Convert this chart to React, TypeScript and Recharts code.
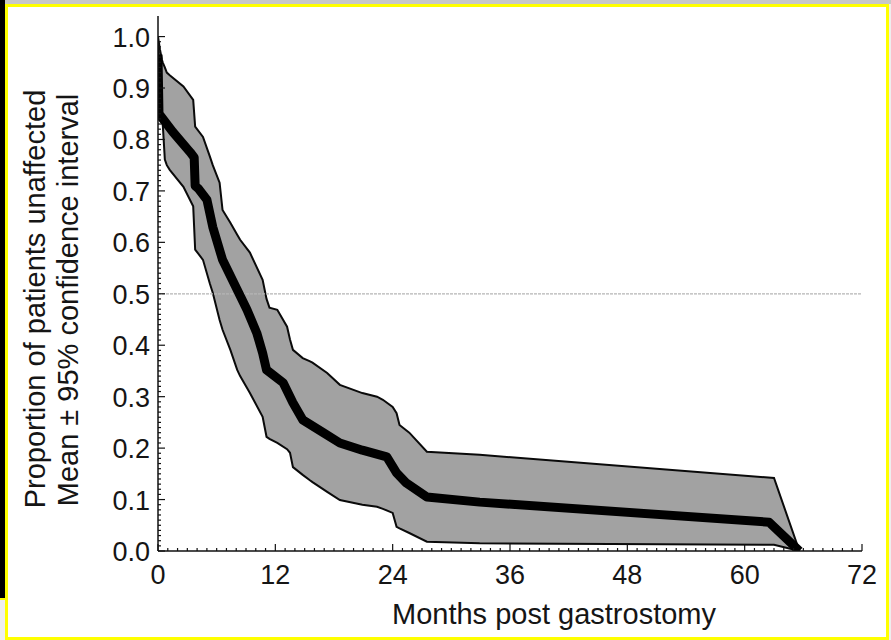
import React from 'react';
import { ComposedChart, Area, Line, XAxis, YAxis, ReferenceLine } from 'recharts';

// 95% confidence band (months post gastrostomy, lower / upper bound)
const bandMonths = [0, 0.2, 0.4, 0.5, 0.7, 0.9, 1.2, 2.6, 3.6, 3.8, 4.6, 5.3, 5.6, 6.3, 6.6, 7.4, 8.1, 8.4, 9.4, 10.7, 11.1, 11.4, 12.2, 13.2, 13.5, 13.8, 14.8, 15.5, 15.8, 17.3, 18.6, 20.9, 22.4, 23.0, 24.0, 24.4, 24.7, 25.7, 27.5, 32.9, 63.0, 65.6];
const bandUpper = [1.0, 0.975, 0.955, 0.949, 0.94, 0.93, 0.925, 0.903, 0.877, 0.825, 0.805, 0.767, 0.75, 0.716, 0.663, 0.638, 0.615, 0.605, 0.58, 0.527, 0.49, 0.473, 0.469, 0.436, 0.411, 0.391, 0.375, 0.369, 0.366, 0.346, 0.323, 0.307, 0.3, 0.294, 0.28, 0.268, 0.245, 0.23, 0.193, 0.187, 0.142, 0.0];
const bandLower = [0.985, 0.93, 0.845, 0.825, 0.761, 0.75, 0.741, 0.708, 0.67, 0.586, 0.566, 0.52, 0.502, 0.449, 0.43, 0.391, 0.352, 0.34, 0.307, 0.261, 0.222, 0.218, 0.21, 0.198, 0.191, 0.163, 0.148, 0.138, 0.134, 0.115, 0.099, 0.09, 0.086, 0.082, 0.074, 0.047, 0.044, 0.035, 0.018, 0.015, 0.012, 0.0];

// Mean proportion of patients unaffected
const meanMonths = [0, 0.1, 1.5, 3.3, 3.7, 3.8, 4.1, 5.0, 5.6, 6.6, 8.1, 9.1, 10.1, 10.7, 11.1, 12.8, 13.8, 14.8, 16.9, 18.6, 20.9, 23.4, 24.4, 25.4, 27.5, 32.9, 62.5, 65.6];
const meanValues = [0.965, 0.85, 0.815, 0.775, 0.765, 0.71, 0.705, 0.683, 0.63, 0.566, 0.508, 0.469, 0.424, 0.385, 0.352, 0.327, 0.288, 0.255, 0.23, 0.21, 0.196, 0.183, 0.152, 0.132, 0.105, 0.095, 0.056, 0.0];

const xMajorTicks = [0, 12, 24, 36, 48, 60, 72];
const yTickLabels = ['0.0', '0.1', '0.2', '0.3', '0.4', '0.5', '0.6', '0.7', '0.8', '0.9', '1.0'];
const xTitle = 'Months post gastrostomy';
const yTitle1 = 'Proportion of patients unaffected';
const yTitle2 = 'Mean \u00b1 95% confidence interval';

const bandData = bandMonths.map((m, i) => ({ month: m, ci: [bandLower[i], bandUpper[i]] }));
const meanData = meanMonths.map((m, i) => ({ month: m, mean: meanValues[i] }));

const xAllTicks = Array.from({ length: 73 }, (_, i) => i);
const yAllTicks = Array.from({ length: 101 }, (_, i) => i / 100);

const FONT = '"Liberation Sans", Arial, Helvetica, sans-serif';
const TEXT = '#151515';

const XTick = (props: any) => {
  const { x, y, payload } = props;
  const m = payload.value;
  const major = xMajorTicks.includes(m);
  return (
    <g>
      <line x1={x} x2={x} y1={y} y2={y - (major ? 7 : 3)} stroke="#111" strokeWidth={1.2} />
      {major && (
        <text x={x} y={y + 33} textAnchor="middle" fontSize={27} fontFamily={FONT} fill={TEXT}>
          {m}
        </text>
      )}
    </g>
  );
};

const YTick = (props: any) => {
  const { x, y, payload } = props;
  const idx = Math.round(payload.value * 100);
  const major = idx % 10 === 0;
  return (
    <g>
      <line x1={x} x2={x + (major ? 7 : 3)} y1={y} y2={y} stroke="#111" strokeWidth={1.2} />
      {major && (
        <text x={x - 8} y={y + 10} textAnchor="end" fontSize={27} fontFamily={FONT} fill={TEXT}>
          {yTickLabels[idx / 10]}
        </text>
      )}
    </g>
  );
};

export default function App() {
  return (
    <div style={{ position: 'absolute', left: 0, top: 0, width: 891, height: 640, background: '#eeeeee', overflow: 'hidden' }}>
      <div style={{ position: 'absolute', left: 0, top: 0, width: 891, height: 4, background: '#c8c8c8' }} />
      <div style={{ position: 'absolute', left: 5, top: 4, width: 884, height: 636, boxSizing: 'border-box', border: '3px solid #ffff00', background: '#ffffff' }} />
      <div style={{ position: 'absolute', left: 0, top: 0, width: 5, height: 598, background: '#000000' }} />
      <div style={{ position: 'absolute', left: 0, top: 598, width: 8, height: 2, background: '#ffff00' }} />
      <div style={{ position: 'absolute', left: 0, top: 0 }}>
        <ComposedChart
          width={891}
          height={640}
          data={bandData}
          margin={{ top: 16, right: 29, bottom: 49, left: 100 }}
        >
          <XAxis
            dataKey="month"
            type="number"
            domain={[0, 72]}
            ticks={xAllTicks}
            interval={0}
            tick={<XTick />}
            tickLine={false}
            tickSize={0}
            tickMargin={0}
            height={40}
            axisLine={{ stroke: '#111', strokeWidth: 1.5 }}
            allowDataOverflow
          />
          <YAxis
            type="number"
            domain={[0, 1.04]}
            ticks={yAllTicks}
            interval={0}
            tick={<YTick />}
            tickLine={false}
            tickSize={0}
            tickMargin={0}
            width={58}
            axisLine={{ stroke: '#111', strokeWidth: 1.5 }}
            allowDataOverflow
          />
          <ReferenceLine y={0.5} stroke="#b5b5b5" strokeWidth={1.2} strokeDasharray="3 1" />
          <Area
            dataKey="ci"
            type="linear"
            stroke="#0a0a0a"
            strokeWidth={2}
            fill="#a2a2a2"
            fillOpacity={1}
            dot={false}
            activeDot={false}
            isAnimationActive={false}
          />
          <Line
            data={meanData}
            dataKey="mean"
            type="linear"
            stroke="#000000"
            strokeWidth={9}
            strokeLinejoin="round"
            dot={false}
            activeDot={false}
            isAnimationActive={false}
          />
        </ComposedChart>
      </div>
      <svg width={891} height={640} style={{ position: 'absolute', left: 0, top: 0, pointerEvents: 'none' }}>
        <text x={554} y={624} textAnchor="middle" fontSize={29} fontFamily={FONT} fill={TEXT}>
          {xTitle}
        </text>
        <text transform="translate(45,299) rotate(-90)" textAnchor="middle" fontSize={29} fontFamily={FONT} fill={TEXT}>
          {yTitle1}
        </text>
        <text transform="translate(78,300) rotate(-90)" textAnchor="middle" fontSize={29} fontFamily={FONT} fill={TEXT}>
          {yTitle2}
        </text>
      </svg>
    </div>
  );
}
